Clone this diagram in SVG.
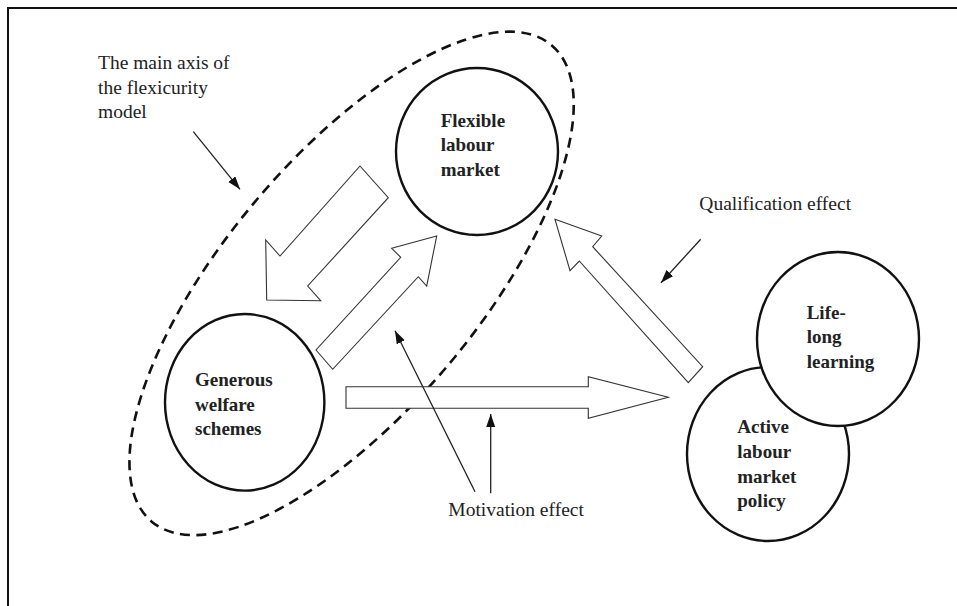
<svg xmlns="http://www.w3.org/2000/svg" width="957" height="606" viewBox="0 0 957 606">
  <style>
    .frame { fill: none; stroke: #111; stroke-width: 2; }
    .node { fill: #fff; stroke: #111; stroke-width: 2.4; }
    .axis { fill: none; stroke: #111; stroke-width: 2.6; stroke-dasharray: 10 6.5; }
    .block { fill: #fff; stroke: #333; stroke-width: 1.1; stroke-linejoin: miter; }
    .thin { fill: none; stroke: #222; stroke-width: 1.3; marker-end: url(#head); }
    .lbl { font-family: "Liberation Serif", "Times New Roman", serif; font-weight: bold; font-size: 19px; fill: #222; }
    .note { font-family: "Liberation Serif", "Times New Roman", serif; font-size: 19.5px; fill: #222; }
  </style>
  <defs>
    <marker id="head" markerUnits="userSpaceOnUse" markerWidth="14" markerHeight="10" refX="13" refY="4.5" orient="auto">
      <path d="M0,0 L13,4.5 L0,9 z" fill="#111"/>
    </marker>
  </defs>
  <rect width="957" height="606" fill="#fff"/>
  <path class="frame" d="M8 606 V8 H957"/>

  <g id="main-axis">
    <ellipse class="axis" cx="351.6" cy="283.4" rx="311" ry="126.5" transform="rotate(-50 351.6 283.4)"/>
  </g>

  <g id="connectors">
    <polygon class="block" points="360,166 388.3,197.7 307.7,286 320.7,300.7 266.7,300 265.7,240 280,256"/>
    <polygon class="block" points="316,350 332.7,369.3 418.3,276.7 426.7,286 436.7,236 391.7,248.3 400.7,257.3"/>
    <polygon class="block" points="346,386.7 588.3,386.7 588.3,376.7 668.3,397.3 588.3,418.3 588.3,408.3 346,408.3"/>
    <polygon class="block" points="555,219.3 601.7,236 592.7,246.7 702.7,366.7 688.3,382.7 579.3,261 570,270.7"/>
    <line class="thin" x1="193.3" y1="131.7" x2="240" y2="189.3"/>
    <line class="thin" x1="475" y1="491.7" x2="395" y2="330.7"/>
    <line class="thin" x1="490.7" y1="493.3" x2="490.7" y2="414"/>
    <line class="thin" x1="700.7" y1="239.3" x2="661" y2="282.7"/>
  </g>

  <g id="flexible-labour-market">
    <ellipse class="node" cx="477" cy="151.5" rx="81" ry="83.5"/>
    <text class="lbl"><tspan x="440.7" y="126.7">Flexible</tspan><tspan x="440.7" y="151">labour</tspan><tspan x="440.7" y="175.5">market</tspan></text>
  </g>

  <g id="generous-welfare-schemes">
    <ellipse class="node" cx="244.7" cy="402.3" rx="79.7" ry="88.3"/>
    <text class="lbl"><tspan x="195" y="386">Generous</tspan><tspan x="195" y="411">welfare</tspan><tspan x="195" y="435">schemes</tspan></text>
  </g>

  <g id="active-labour-market-policy">
    <ellipse class="node" cx="768" cy="454" rx="81" ry="87"/>
    <text class="lbl"><tspan x="737.3" y="433.3">Active</tspan><tspan x="737.3" y="458.3">labour</tspan><tspan x="737.3" y="482.7">market</tspan><tspan x="737.3" y="507.3">policy</tspan></text>
  </g>

  <g id="life-long-learning">
    <ellipse class="node" cx="838" cy="339" rx="81" ry="87"/>
    <text class="lbl"><tspan x="806.7" y="318.7">Life-</tspan><tspan x="806.7" y="343.3">long</tspan><tspan x="806.7" y="368.3">learning</tspan></text>
  </g>

  <g id="annotations">
    <text class="note"><tspan x="98" y="69">The main axis of</tspan><tspan x="98" y="93.5">the flexicurity</tspan><tspan x="98" y="118.3">model</tspan></text>
    <text class="note" x="699.3" y="210">Qualification effect</text>
    <text class="note" x="448.3" y="516">Motivation effect</text>
  </g>
</svg>
